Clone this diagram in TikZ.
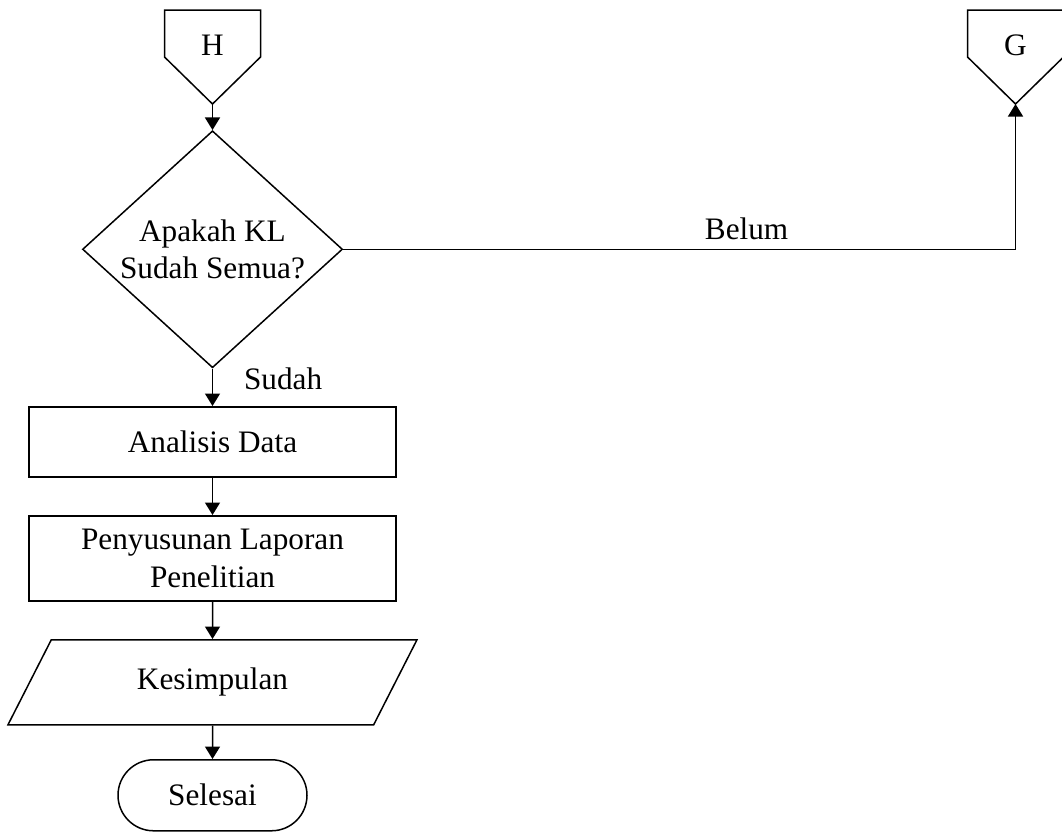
\documentclass[tikz,border=0pt]{standalone}
\usepackage{fontspec}
\setmainfont{Liberation Serif}
\usetikzlibrary{arrows.meta,positioning,shapes.geometric,shapes.misc}
\tikzset{node distance=15pt, % gap between the boxes of the flow
        every node/.style={font=\fontsize{12.5}{15}\selectfont},
        base/.style={ % common look of all boxes
            draw,
            line width=0.6pt,
            align=center,
            inner sep=0pt},
        process/.style={base, rectangle, minimum width=146.8pt},
        decision/.style={base, diamond, aspect=1.1, minimum width=104pt, minimum height=94.8pt},
        io/.style={base, trapezium, trapezium left angle=63, trapezium right angle=117,
            trapezium stretches body, text height=8.5pt, text depth=2.7pt,
            inner ysep=11.4pt, minimum width=163.6pt, minimum height=34pt},
        terminal/.style={base, rounded rectangle, minimum width=75.6pt, minimum height=28.4pt},
        offpage/.style={minimum width=38pt, minimum height=28pt, inner sep=0pt}, % text part of the connector
        flow/.style={ % connectors
            draw,
            line width=0.6pt,
            -{Triangle[length=5pt,width=6pt]}}
        }

\begin{document}
\begin{tikzpicture}
    \useasboundingbox (0,0) rectangle (424.8pt,-332.4pt);

    % off-page connectors
    \node[offpage, anchor=north]  (h)  at (85pt,-4pt)        {H};
    \node[offpage]                (g)  [right=282.8pt of h]  {G};
    \coordinate (htip) at ([yshift=-37.6pt]h.north);
    \coordinate (gtip) at ([yshift=-37.6pt]g.north);
    \draw[base] (h.north west) -- (h.north east) -- ([yshift=-18.8pt]h.north east)
        -- (htip) -- ([yshift=-18.8pt]h.north west) -- cycle;
    \draw[base] (g.north west) -- (g.north east) -- ([yshift=-18.8pt]g.north east)
        -- (gtip) -- ([yshift=-18.8pt]g.north west) -- cycle;

    \node[decision]                      (kl)  [below=10.4pt of htip]  {Apakah KL\\Sudah Semua?};
    \node[process, minimum height=28pt]  (ana) [below=of kl]           {Analisis Data};
    \node[process, minimum height=34pt]  (lap) [below=of ana]          {Penyusunan Laporan\\Penelitian};
    \node[io]                            (kes) [below=of lap]          {Kesimpulan};
    \node[terminal]                      (sel) [below=13.4pt of kes]   {Selesai};

    \draw[flow] (htip) -- (kl);
    \draw[flow] (kl) -- node[pos=0.28, right, xshift=9pt, inner sep=0.333em] {Sudah} (ana);
    \draw[flow] (ana) -- (lap);
    \draw[flow] (lap) -- (kes);
    \draw[flow] (kes) -- (sel);
    \draw[flow] (kl.east) -| node[pos=0.3, above, inner sep=0.333em] {Belum} (gtip);
\end{tikzpicture}
\end{document}
